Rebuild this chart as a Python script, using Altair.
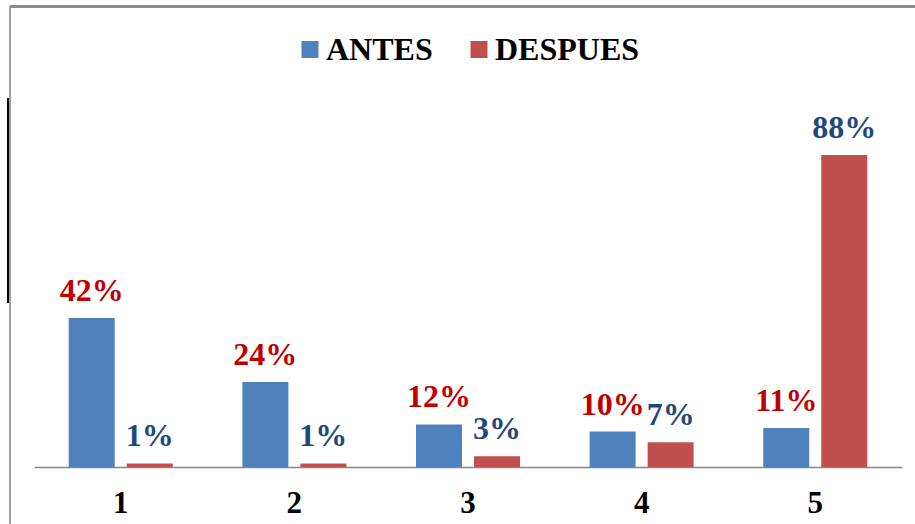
import altair as alt
import pandas as pd

# Respuestas por nivel, antes y después
niveles = ["1", "2", "3", "4", "5"]
antes = [42, 24, 12, 10, 11]
despues = [1, 1, 3, 7, 88]
series = ["ANTES", "DESPUES"]

rows = []
for i, n in enumerate(niveles):
    rows.append({"nivel": n, "serie": "ANTES", "valor": antes[i]})
    rows.append({"nivel": n, "serie": "DESPUES", "valor": despues[i]})
df = pd.DataFrame(rows)
df["etiqueta"] = df["valor"].astype(str) + "%"

FONT = "Liberation Serif"
W, H = 868, 354.5
PAD_L, PAD_T = 34, 112.5

x_enc = alt.X(
    "nivel:N",
    sort=niveles,
    scale=alt.Scale(paddingInner=0.401, paddingOuter=0.2),
    axis=alt.Axis(
        title=None, labelAngle=0, labelFont=FONT, labelFontSize=31,
        labelFontWeight="bold", labelColor="#000000", labelPadding=21,
        ticks=False, domainColor="#868686", domainWidth=1.5, grid=False,
    ),
)
xo_enc = alt.XOffset("serie:N", sort=series,
                     scale=alt.Scale(paddingInner=0.207, paddingOuter=0))
y_enc = alt.Y("valor:Q", scale=alt.Scale(domain=[0, 100], nice=False), axis=None)

barras = alt.Chart(df).mark_bar().encode(
    x=x_enc,
    xOffset=xo_enc,
    y=y_enc,
    color=alt.Color(
        "serie:N",
        sort=series,
        scale=alt.Scale(domain=series, range=["#4F81BD", "#C0504D"]),
        legend=alt.Legend(
            title=None, orient="none", direction="horizontal",
            legendX=260, legendY=-79, padding=0, symbolType="square",
            symbolSize=289, symbolStrokeWidth=0, labelFont=FONT,
            labelFontSize=32, labelFontWeight="bold", labelColor="#000000",
            labelOffset=0, columnPadding=30,
        ),
    ),
)

etiquetas = alt.Chart(df).mark_text(
    font=FONT, fontSize=32, fontWeight="bold", baseline="alphabetic", dy=-17,
).encode(
    x=x_enc,
    xOffset=xo_enc,
    y=y_enc,
    text="etiqueta:N",
    color=alt.condition(alt.datum.serie == "ANTES",
                        alt.value("#C00000"), alt.value("#1F497D")),
)

# marco del área del gráfico
borde_sup = alt.Chart(df).mark_rule(color="#8C8C8C", strokeWidth=2).encode(
    x=alt.value(10 - PAD_L), x2=alt.value(915 - PAD_L), y=alt.value(6.5 - PAD_T)
)
borde_izq = alt.Chart(df).mark_rule(color="#A0A0A0", strokeWidth=1.5).encode(
    x=alt.value(10 - PAD_L), y=alt.value(6.5 - PAD_T), y2=alt.value(524 - PAD_T)
)
trazo = alt.Chart(df).mark_rule(color="#000000", strokeWidth=1.5).encode(
    x=alt.value(8 - PAD_L), y=alt.value(98 - PAD_T), y2=alt.value(303 - PAD_T)
)

chart = (
    alt.layer(borde_sup, borde_izq, trazo, barras, etiquetas)
    .properties(
        width=W, height=H,
        autosize=alt.AutoSizeParams(type="none"),
        padding={"left": PAD_L, "top": PAD_T, "right": 915 - PAD_L - W,
                 "bottom": 524 - PAD_T - H},
        background="#FFFFFF",
    )
    .configure_view(stroke=None)
)

chart.save("out.html", embed_options={"renderer": "svg", "actions": False})
